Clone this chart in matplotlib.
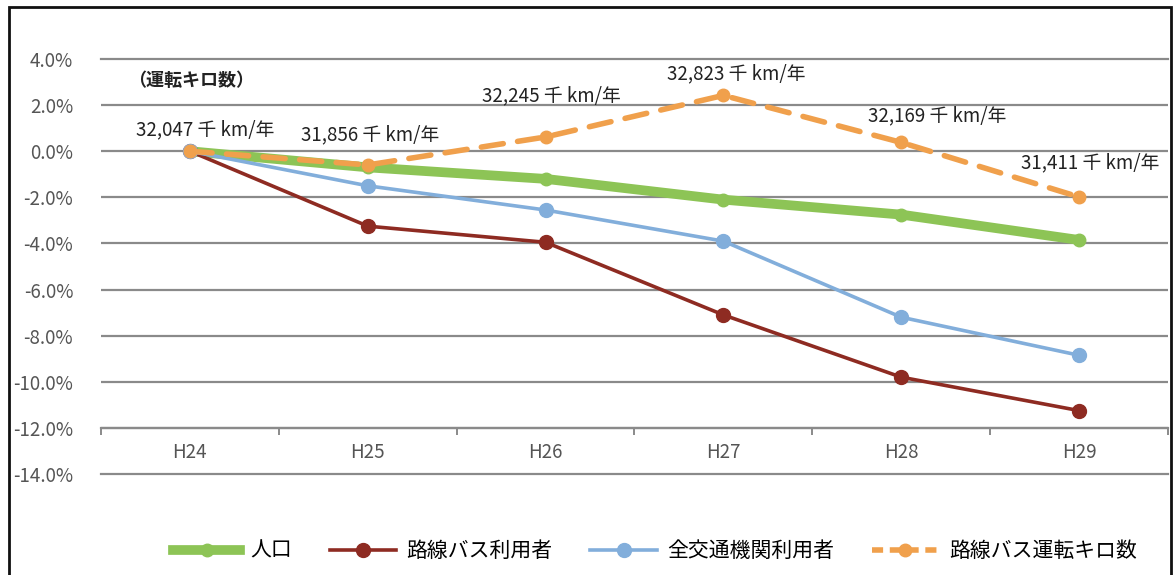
import numpy as np
import matplotlib.pyplot as plt
import matplotlib.transforms as mtransforms
from matplotlib.patches import Rectangle
from matplotlib.lines import Line2D

plt.rcParams['font.family'] = ['Noto Sans CJK JP', 'DejaVu Sans']

# 年度と各系列の伸び率（H24比, %）
years = ['H24', 'H25', 'H26', 'H27', 'H28', 'H29']
population = [0.0, -0.7, -1.2, -2.1, -2.75, -3.85]
bus_users = [0.0, -3.25, -3.95, -7.1, -9.8, -11.25]
all_transit_users = [0.0, -1.5, -2.55, -3.9, -7.2, -8.85]
# 路線バス運転キロ（千km/年）
bus_km = [32047, 31856, 32245, 32823, 32169, 31411]
bus_km_rate = [(k / bus_km[0] - 1) * 100 for k in bus_km]
y_ticks = [-14, -12, -10, -8, -6, -4, -2, 0, 2, 4]

series_names = ['人口', '路線バス利用者', '全交通機関利用者', '路線バス運転キロ数']
c_green = '#8dc456'
c_red = '#8e2b22'
c_blue = '#82aedb'
c_orange = '#f0a04c'
grid_c = '#8a8a8a'

fig = plt.figure(figsize=(11.74, 5.75), dpi=100)
ax = fig.add_axes([101 / 1174, 1 - 474 / 575, 1067 / 1174, 415 / 575])
ax.set_xlim(-0.5, len(years) - 0.5)
ax.set_ylim(-14, 4)

# 目盛線：内側は軸の中、上下端の線は図の前面に描く
edge_trans = mtransforms.blended_transform_factory(ax.transAxes, ax.transData)
for yv in y_ticks:
    if yv in (y_ticks[0], y_ticks[-1]):
        fig.add_artist(Line2D([0, 1], [yv, yv], transform=edge_trans,
                              color=grid_c, lw=1.6, zorder=10))
    else:
        ax.axhline(yv, color=grid_c, lw=1.6, zorder=1)

x = np.arange(len(years))
ax.plot(x, population, color=c_green, lw=7, marker='o', ms=9, zorder=3,
        solid_capstyle='round')
ax.plot(x, bus_users, color=c_red, lw=2.6, marker='o', ms=10, zorder=4)
ax.plot(x, all_transit_users, color=c_blue, lw=2.6, marker='o', ms=10, zorder=4)
ax.plot(x, bus_km_rate, color=c_orange, lw=4, ls=(0, (4, 2.6)), marker='o',
        ms=9, zorder=5, dash_capstyle='round')

# 運転キロの値ラベル
label_offsets = [(15, 21), (2, 30), (6, 41), (13, 22), (36, 27), (11, 34)]
for xi, yi, k, (dx, dy) in zip(x, bus_km_rate, bus_km, label_offsets):
    ax.annotate(f'{k:,} 千 km/年', (xi, yi), xytext=(dx, dy),
                textcoords='offset pixels', ha='center', va='center',
                fontsize=13.5, color='#222222')

fig.text(128 / 1174, 1 - 80 / 575, '（運転キロ数）', fontsize=13,
         fontweight='bold', color='#222222', va='center', ha='left')

ax.set_yticks(y_ticks)
ax.set_yticklabels([f'{v:.1f}%' for v in y_ticks], fontsize=13.5, color='#555555')
ax.tick_params(axis='y', length=0, pad=20)

for s in ['top', 'right', 'left']:
    ax.spines[s].set_visible(False)
ax.spines['bottom'].set_position(('data', -12))
ax.spines['bottom'].set_color(grid_c)
ax.spines['bottom'].set_linewidth(1.6)
ax.set_xticks(x)
ax.set_xticklabels(years, fontsize=13.5, color='#555555')
ax.set_xticks(np.arange(-0.5, len(years), 1), minor=True)
ax.tick_params(axis='x', which='major', length=0, pad=10)
ax.tick_params(axis='x', which='minor', length=5, width=1.4,
               color=grid_c, direction='out')

handles = [
    Line2D([], [], color=c_green, lw=7, marker='o', ms=9),
    Line2D([], [], color=c_red, lw=2.6, marker='o', ms=10),
    Line2D([], [], color=c_blue, lw=2.6, marker='o', ms=10),
    Line2D([], [], color=c_orange, lw=4, ls=(0, (2.0, 1.2)), marker='o', ms=9),
]
fig.legend(handles, series_names, loc='center', ncol=4,
           bbox_to_anchor=(655 / 1174, 1 - 551 / 575), frameon=False,
           fontsize=15, handlelength=3.2, columnspacing=1.8, handletextpad=0.5)

# 外枠
fig.add_artist(Rectangle((9 / 1174, -0.05), 1162 / 1174, 1.05 - 7 / 575,
                         transform=fig.transFigure, fill=False,
                         edgecolor='#111111', lw=2))

fig.savefig('out.png', dpi=100)
